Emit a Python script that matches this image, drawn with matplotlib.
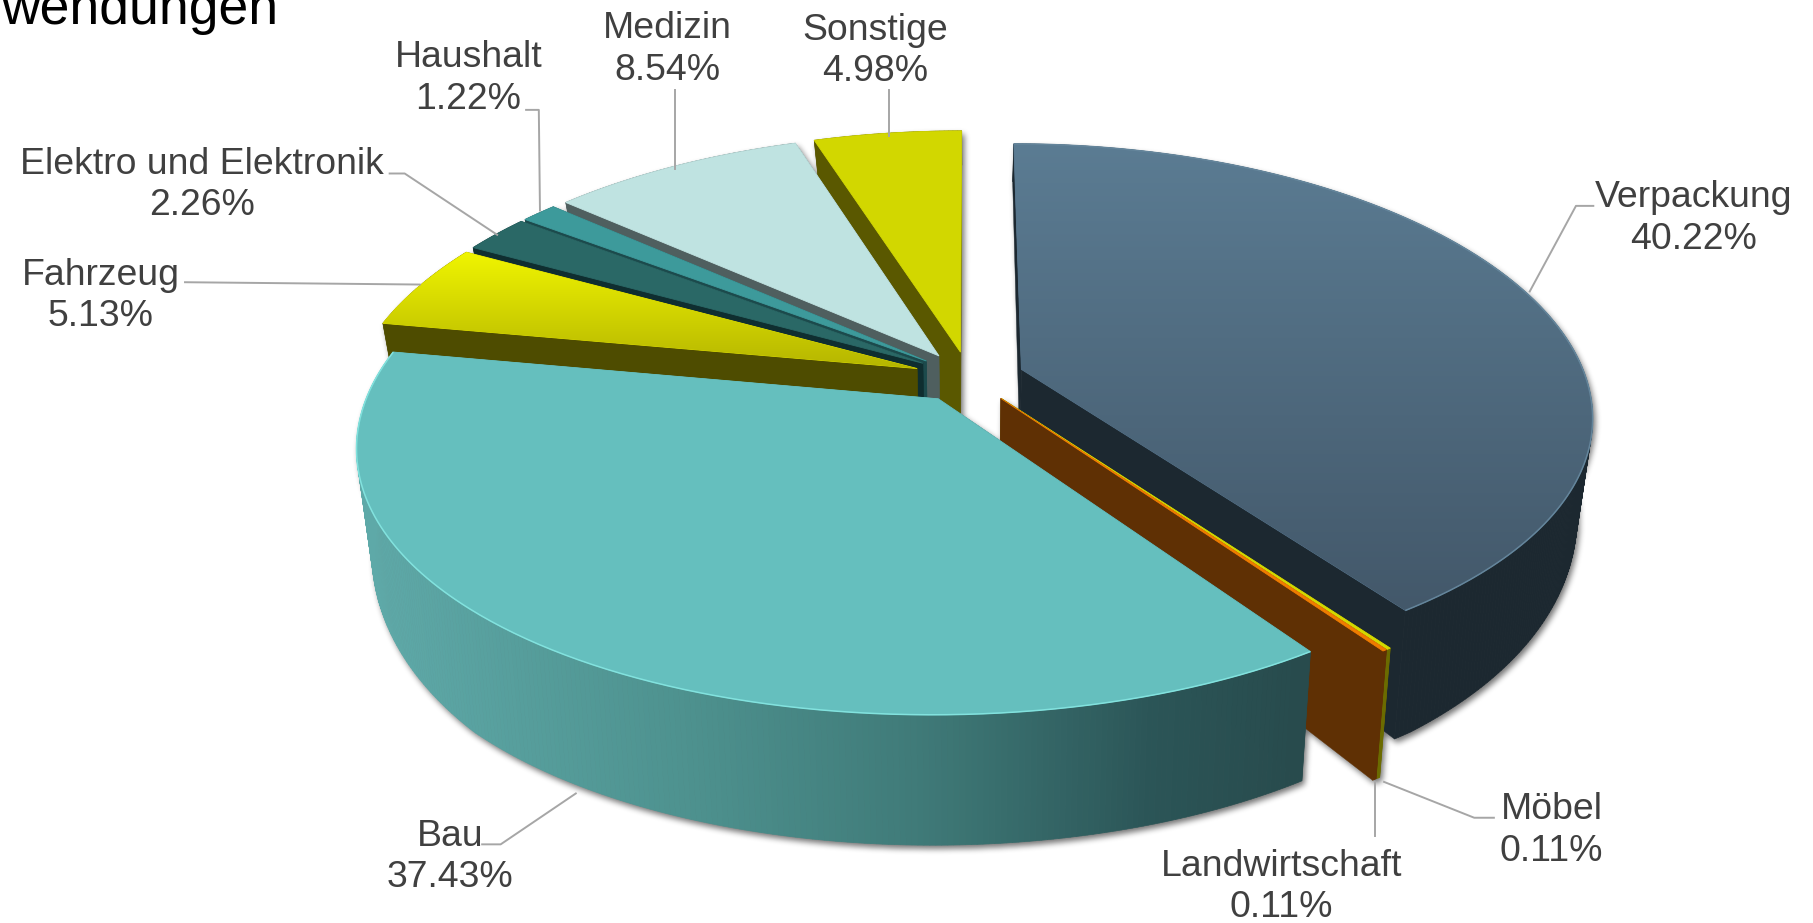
import numpy as np
import matplotlib
matplotlib.use('Agg')
import matplotlib.pyplot as plt
from matplotlib.patches import Polygon
from matplotlib.colors import to_rgb

names = ['Verpackung', 'Möbel', 'Landwirtschaft', 'Bau', 'Fahrzeug',
         'Elektro und Elektronik', 'Haushalt', 'Medizin', 'Sonstige']
values = [40.22, 0.11, 0.11, 37.43, 5.13, 2.26, 1.22, 8.54, 4.98]

top_colors = ['#53728a', '#d3d900', '#f07c00', '#65bfbe', '#dede00',
              '#2a6866', '#3d9a9b', '#bfe3e1', '#d2d700']
wall_colors = ['#1c2830', '#6b6b00', '#5f3004', '#3f7a78', '#4e4c00',
               '#0f2e30', '#1c4a4c', '#4f5f5f', '#5a5800']

# label centre and leader line, in the coordinates of the 1568x798 view
label_pos = {
    'Verpackung': (1465, 189), 'Möbel': (1342, 718), 'Landwirtschaft': (1108, 767),
    'Bau': (389, 741), 'Fahrzeug': (87, 256), 'Elektro und Elektronik': (175, 160),
    'Haushalt': (405, 68), 'Medizin': (577, 43), 'Sonstige': (757, 44),
}
leaders = {
    'Verpackung': [(1378, 178), (1363, 178), (1323, 252)],
    'Möbel': [(1292, 707), (1275, 707), (1197, 676)],
    'Landwirtschaft': [(1189, 723), (1189, 677)],
    'Bau': [(417, 730), (433, 730), (498, 686)],
    'Fahrzeug': [(160, 244), (363, 246)],
    'Elektro und Elektronik': [(337, 150), (350, 150), (430, 203)],
    'Haushalt': [(455, 95), (466, 95), (467, 182)],
    'Medizin': [(584, 78), (584, 146)],
    'Sonstige': [(769, 78), (769, 118)],
}

# pie geometry
CX, CY = 838, 326
R, RK = 488, 226
PERSP_X, PERSP_Y = 0.17, 0.15
EXPLODE = 0.098
W, H = 1568, 798

plt.rcParams['font.family'] = ['Liberation Sans', 'DejaVu Sans']


def project(X, Y):
    w = 1 - PERSP_Y * Y
    return CX + R * X / (1 - PERSP_X * Y), CY + RK * Y / w, w


def drop(x, y, w):
    return CX + (x - CX) * 0.975, y + np.interp(w, [0.83, 0.885, 1.0, 1.17], [113, 111, 78, 28])


def wedge(a0, a1):
    mid = np.radians((a0 + a1) / 2)
    ox, oy = EXPLODE * np.sin(mid), -EXPLODE * np.cos(mid)
    th = np.radians(np.linspace(a0, a1, max(3, int((a1 - a0) * 2))))
    X = np.concatenate([[ox], ox + np.sin(th)])
    Y = np.concatenate([[oy], oy - np.cos(th)])
    x, y, w = project(X, Y)
    bx, by = drop(x, y, w)
    return x, y, bx, by


def box(a, n, axis):
    c = np.cumsum(a, axis=axis)
    return (np.roll(c, -n, axis=axis) - np.roll(c, n, axis=axis)) / (2 * n)


fig = plt.figure(figsize=(18.13, 9.23), dpi=100)
ax = fig.add_axes([0, 0, 1, 1])

fig2 = plt.figure(figsize=(18.13, 9.23), dpi=100)
ax2 = fig2.add_axes([0, 0, 1, 1])
for a in (ax, ax2):
    a.set_axis_off()

edges = np.concatenate([[0], np.cumsum(values)]) * 3.6
mids = (edges[:-1] + edges[1:]) / 2
order = np.argsort(-np.cos(np.radians(mids)))

bau_x = [320, 600, 800, 1000, 1125]
bau_c = np.array([to_rgb(c) for c in ['#5ea9a8', '#4d918e', '#3f7a78', '#2b5557', '#284b4d']])

z = 2
for i in order:
    x, y, bx, by = wedge(edges[i], edges[i + 1])
    name = names[i]

    # drop shadow mask
    ax2.add_patch(Polygon(np.c_[x, y], fc='k', lw=0))
    ax2.add_patch(Polygon(np.c_[bx, by], fc='k', lw=0))
    ax2.add_patch(Polygon(np.c_[np.r_[x[1:], bx[:0:-1]], np.r_[y[1:], by[:0:-1]]], fc='k', lw=0))
    for k in (1, -1):
        ax2.add_patch(Polygon([(x[0], y[0]), (x[k], y[k]), (bx[k], by[k]), (bx[0], by[0])], fc='k', lw=0))

    # radial walls
    for k in (1, -1):
        c = wall_colors[i]
        if name == 'Bau':
            c = '#5ea9a8' if k == -1 else '#284b4d'
        ax.add_patch(Polygon([(x[0], y[0]), (x[k], y[k]), (bx[k], by[k]), (bx[0], by[0])],
                             fc=c, ec=c, lw=0.3, zorder=z))
        z += 1

    # outer wall, cut in small quads for the shading of Bau
    for j in range(1, len(x) - 1):
        c = wall_colors[i]
        if name == 'Bau':
            c = tuple(np.interp(x[j], bau_x, bau_c[:, n]) for n in range(3))
        ax.add_patch(Polygon([(x[j], y[j]), (x[j + 1], y[j + 1]), (bx[j + 1], by[j + 1]), (bx[j], by[j])],
                             fc=c, ec=c, lw=0.5, zorder=z))
    z += 1

    # top face
    top = Polygon(np.c_[x, y], fc=top_colors[i], ec=top_colors[i], lw=0.6, zorder=z)
    ax.add_patch(top)
    z += 1
    grad = {'Verpackung': ('#5b7c93', '#43586a'), 'Fahrzeug': ('#f0f500', '#b5b500')}
    if name in grad:
        c0, c1 = np.array(to_rgb(grad[name][0])), np.array(to_rgb(grad[name][1]))
        s = np.linspace(0, 1, 256)[:, None, None]
        img = ax.imshow((c0 * (1 - s) + c1 * s), extent=(x.min(), x.max(), y.max(), y.min()),
                        aspect='auto', zorder=z)
        img.set_clip_path(top)
        z += 1
    if name in ('Bau', 'Verpackung'):
        rim = '#82e2de' if name == 'Bau' else '#64859b'
        ax.plot(x[1:], y[1:], color=rim, lw=1.1, zorder=z, solid_capstyle='butt')
        z += 1

# blurred shadow under everything
ax2.set_xlim(0, W)
ax2.set_ylim(H, 0)
fig2.canvas.draw()
mask = 1 - np.asarray(fig2.canvas.buffer_rgba())[..., 0] / 255.0
mask = np.roll(np.roll(mask, 5, axis=0), 4, axis=1)
for _ in range(3):
    mask = box(box(mask, 3, 0), 3, 1)
mask[:12] = 0
mask[-12:] = 0
mask[:, :12] = 0
mask[:, -12:] = 0
shadow = np.zeros(mask.shape + (4,))
shadow[..., 3] = np.clip(mask, 0, 1) * 0.55
ax.imshow(shadow, extent=(0, W, H, 0), aspect='auto', zorder=1)

for name, val in zip(names, values):
    lx, ly = label_pos[name]
    ax.text(lx, ly, '%s\n%.2f%%' % (name, val), ha='center', va='center', fontsize=26.9,
            color='#404040', linespacing=1.24, zorder=200)
    pts = np.array(leaders[name])
    ax.plot(pts[:, 0], pts[:, 1], color='#a6a6a6', lw=1.4, zorder=199)

ax.text(241, 21, 'wendungen', ha='right', va='baseline', fontsize=38.5, color='black', zorder=200)

ax.set_xlim(0, W)
ax.set_ylim(H, 0)
fig.savefig('out.png', dpi=100)
